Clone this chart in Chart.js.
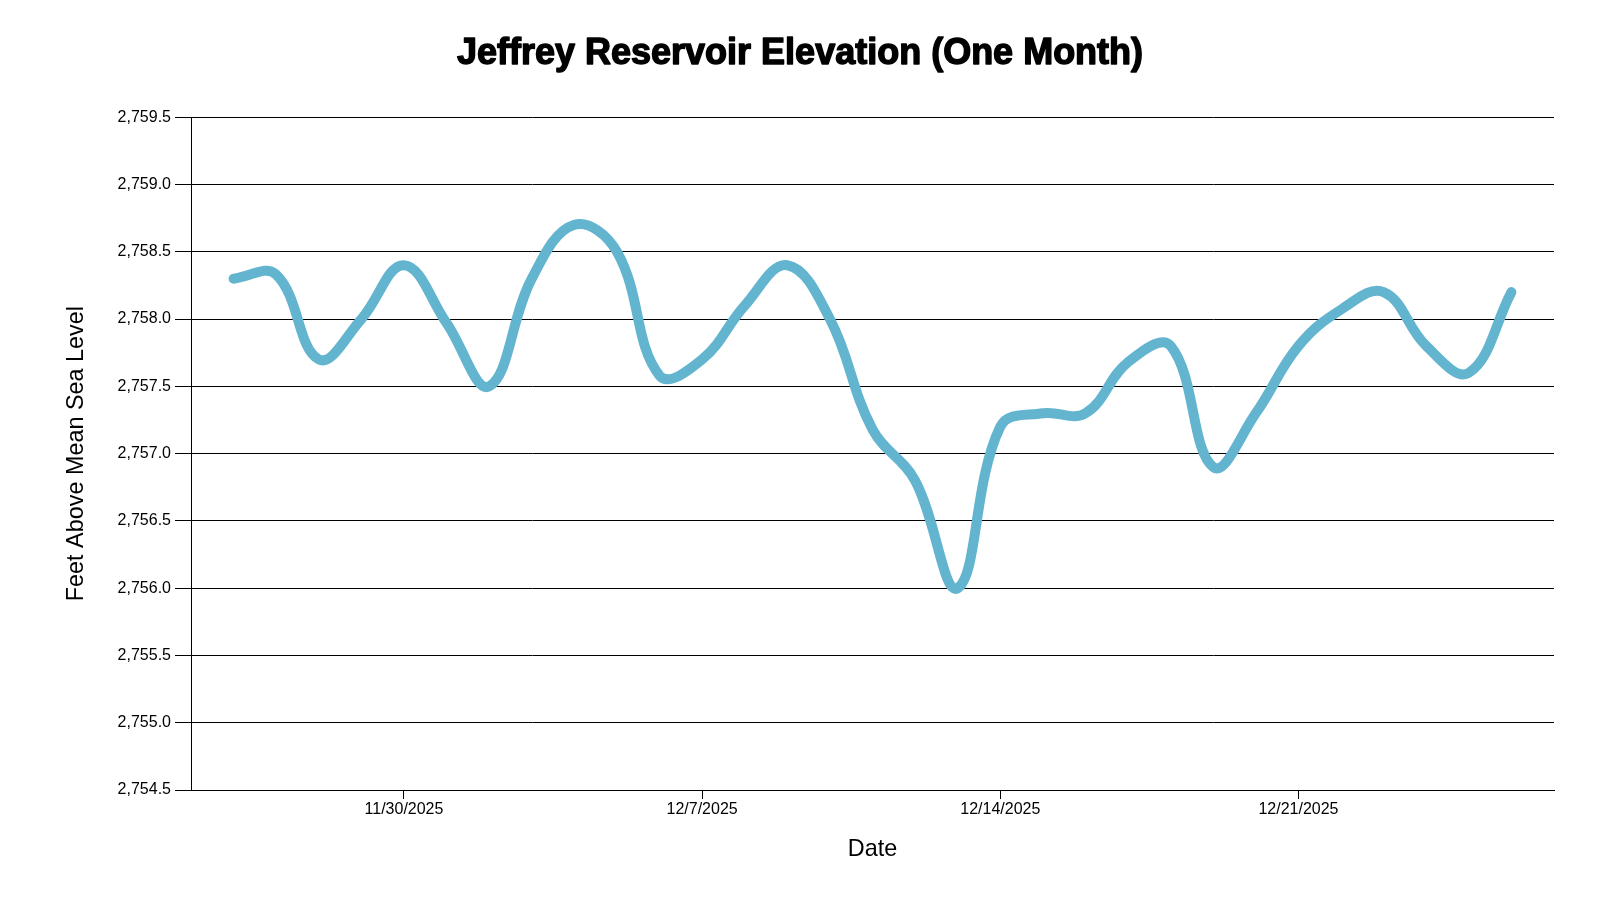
<!DOCTYPE html>
<html>
<head>
<meta charset="utf-8">
<script src="https://cdn.jsdelivr.net/npm/chart.js@4.4.1/dist/chart.umd.min.js"></script>
<style>
html,body{margin:0;padding:0;background:#fff;}
#wrap{width:1600px;height:900px;}
</style>
</head>
<body>
<div id="wrap"><canvas id="c" width="1600" height="900"></canvas></div>
<script>
const titleText = 'Jeffrey Reservoir Elevation (One Month)';
const xTitle = 'Date';
const yTitle = 'Feet Above Mean Sea Level';
const startDate = '11/25/2025';
const endDate = '12/27/2025';
const dates = [
  '11/26/2025','11/27/2025','11/28/2025','11/29/2025','11/30/2025',
  '12/1/2025','12/2/2025','12/3/2025','12/4/2025','12/5/2025','12/6/2025',
  '12/7/2025','12/8/2025','12/9/2025','12/10/2025','12/11/2025','12/12/2025',
  '12/13/2025','12/14/2025','12/15/2025','12/16/2025','12/17/2025','12/18/2025',
  '12/19/2025','12/20/2025','12/21/2025','12/22/2025','12/23/2025','12/24/2025',
  '12/25/2025','12/26/2025'
];
const elevation = [
  2758.30, 2758.33, 2757.70, 2758.00, 2758.40,
  2757.97, 2757.50, 2758.30, 2758.70, 2758.50, 2757.58,
  2757.70, 2758.10, 2758.40, 2758.00, 2757.18, 2756.80,
  2756.00, 2757.20, 2757.30, 2757.30, 2757.68, 2757.80,
  2756.90, 2757.30, 2757.80, 2758.07, 2758.20, 2757.80,
  2757.60, 2758.20
];
const xTickLabels = ['11/30/2025','12/7/2025','12/14/2025','12/21/2025'];
const yMin = 2754.5, yMax = 2759.5, yStep = 0.5;

function dayNum(s){
  const [m,d,y] = s.split('/').map(Number);
  return Math.round(Date.UTC(y,m-1,d)/86400000);
}
const base = dayNum(startDate);
const points = dates.map((d,i)=>({x: dayNum(d)-base, y: elevation[i]}));
const tickPos = xTickLabels.map(d=>dayNum(d)-base);

const FONT = "'Liberation Sans', Arial, sans-serif";
Chart.defaults.font.family = FONT;
Chart.defaults.color = '#000';

const TITLE_SIZE = 36;
const TITLE_PAD = { top: 18, bottom: 42 };

// thicken the title slightly with a stroke over the built-in title
const titleStroke = {
  id: 'titleStroke',
  afterDraw(chart) {
    const tb = chart.titleBlock;
    if (!tb) return;
    const ctx = chart.ctx;
    ctx.save();
    ctx.font = 'bold ' + TITLE_SIZE + 'px ' + FONT;
    ctx.textAlign = 'center';
    ctx.textBaseline = 'middle';
    ctx.lineWidth = 1.4;
    ctx.strokeStyle = '#000';
    ctx.lineJoin = 'round';
    const x = (tb.left + tb.right) / 2;
    const y = tb.top + TITLE_PAD.top + TITLE_SIZE * 1.2 / 2;
    ctx.strokeText(titleText, x, y);
    ctx.restore();
  }
};

new Chart(document.getElementById('c'), {
  type: 'line',
  data: {
    datasets: [{
      data: points,
      borderColor: '#63b5cf',
      borderWidth: 10,
      pointRadius: 0,
      pointHoverRadius: 0,
      tension: 0.4,
      borderCapStyle: 'round',
      borderJoinStyle: 'round',
      fill: false
    }]
  },
  options: {
    responsive: false,
    devicePixelRatio: 1,
    animation: false,
    layout: { padding: { top: 14, right: 46, bottom: 0, left: 46 } },
    plugins: {
      legend: { display: false },
      tooltip: { enabled: false },
      title: {
        display: true,
        text: titleText,
        color: '#000',
        font: { family: FONT, size: TITLE_SIZE, weight: 'bold' },
        padding: TITLE_PAD
      }
    },
    scales: {
      x: {
        type: 'linear',
        min: 0,
        max: dayNum(endDate) - base,
        afterBuildTicks: (s) => { s.ticks = tickPos.map(v => ({ value: v })); },
        afterFit: (s) => { s.height = 110; },
        ticks: {
          autoSkip: false,
          maxRotation: 0,
          padding: 1,
          font: { size: 16 },
          color: '#000',
          callback: (v) => { const i = tickPos.indexOf(v); return i >= 0 ? xTickLabels[i] : ''; }
        },
        grid: { drawOnChartArea: false, drawTicks: true, tickLength: 9, color: '#000', lineWidth: 1 },
        border: { display: true, color: '#000', width: 1 },
        title: { display: true, text: xTitle, color: '#000', font: { size: 23.4 }, padding: { top: 0, bottom: 36 } }
      },
      y: {
        min: yMin,
        max: yMax,
        afterFit: (s) => { s.width = 145; },
        ticks: {
          stepSize: yStep,
          padding: 4,
          font: { size: 16 },
          color: '#000',
          callback: (v) => Number(v).toLocaleString('en-US', { minimumFractionDigits: 1, maximumFractionDigits: 1 })
        },
        grid: { color: '#000', lineWidth: 1, tickLength: 16, drawTicks: true },
        border: { display: true, color: '#000', width: 1 },
        title: { display: true, text: yTitle, color: '#000', font: { size: 23.4 }, padding: { top: 17, bottom: 0 } }
      }
    }
  },
  plugins: [titleStroke]
});
</script>
</body>
</html>
